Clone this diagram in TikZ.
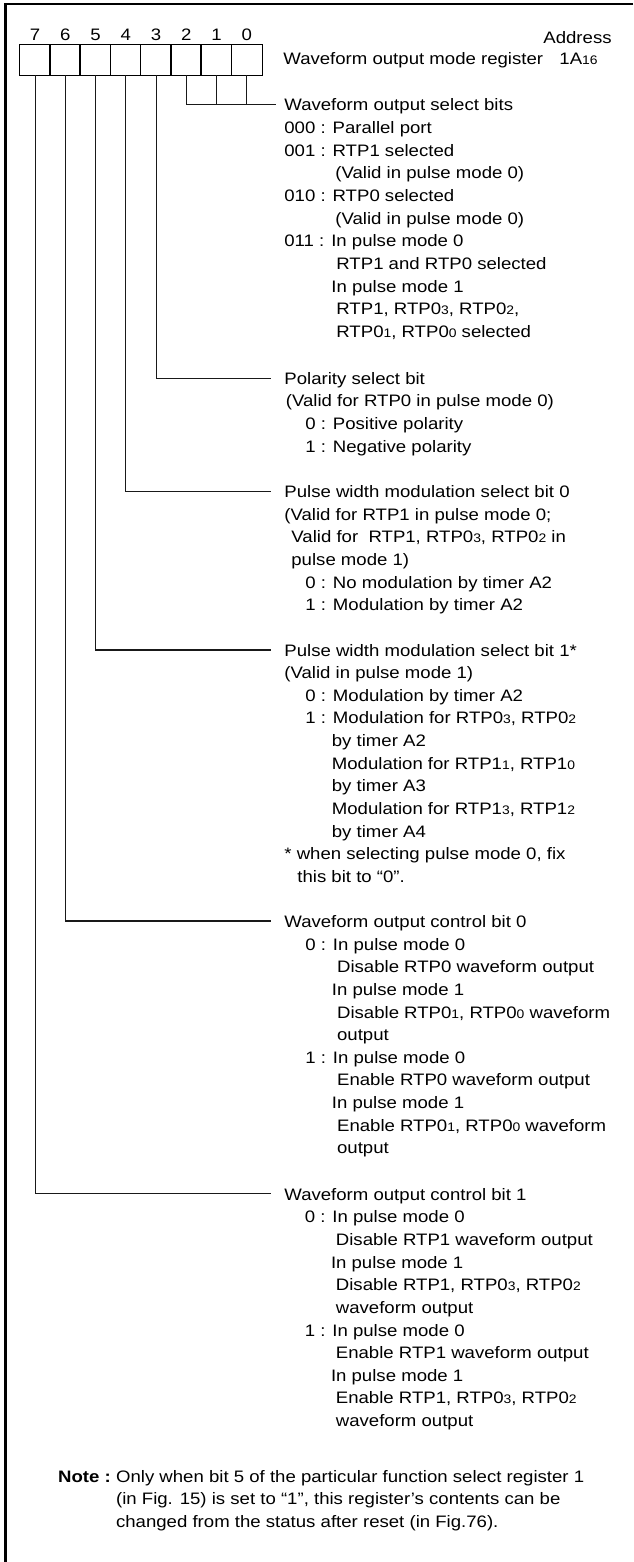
\documentclass[tikz,border=0pt]{standalone}
\usepackage{fontspec}
\setmainfont{Liberation Sans}[FakeStretch=1.12]
\newcommand\sbs[1]{{\fontsize{6.2}{6.5}\selectfont #1}}
\begin{document}
\begin{tikzpicture}[x=0.5pt,y=-0.5pt,
  lbl/.style={anchor=base west,inner sep=0pt,font=\fontsize{8.3}{9.6}\selectfont},
  digit/.style={anchor=base,inner sep=0pt,font=\fontsize{8.3}{9.6}\selectfont},
  bitbox/.style={minimum width=15.125pt,minimum height=15pt,inner sep=0pt},
  regline/.style={line width=0.7pt},
  conn/.style={line width=0.55pt,draw=black!90},
  frame/.style={line width=1.3pt,line join=miter}]
\useasboundingbox (0,0) rectangle (633,1562);
\draw[frame] (633,4) -- (5.5,4) -- (5.5,1562);
% register bits
\foreach \i in {0,...,7}{
  \node[bitbox] (r\i) at ({20+30.25*(7-\i+0.5)},60) {};
  \node[digit] (q\i) at ({20+30.25*(7-\i+0.5)},41) {\i};
}
\draw[regline] (r7.north west) rectangle (r0.south east);
\foreach \i in {0,...,6}{
  \draw[regline] (r\i.north west) -- (r\i.south west);
}
\node[lbl,anchor=base east] (addr) at (612,43.3) {Address};
\node[lbl] (reg) at (283,65) {Waveform output mode register};
\node[lbl,anchor=base east] (regaddr) at (598,65) {1A\sbs{16}};
\def\dy{22.63}
% section 1
\def\yA{111}
\node[lbl] (a0) at (284,\yA) {Waveform output select bits};
\node[lbl] (a1) at (284,\yA+\dy) {000 : Parallel port};
\node[lbl] (a2) at (284,\yA+2*\dy) {001 : RTP1 selected};
\node[lbl] (a3) at (335,\yA+3*\dy) {(Valid in pulse mode 0)};
\node[lbl] (a4) at (284,\yA+4*\dy) {010 : RTP0 selected};
\node[lbl] (a5) at (335,\yA+5*\dy) {(Valid in pulse mode 0)};
\node[lbl] (a6) at (284,\yA+6*\dy) {011 : In pulse mode 0};
\node[lbl] (a7) at (336,\yA+7*\dy) {RTP1 and RTP0 selected};
\node[lbl] (a8) at (331,\yA+8*\dy) {In pulse mode 1};
\node[lbl] (a9) at (336,\yA+9*\dy) {RTP1, RTP0\sbs{3}, RTP0\sbs{2},};
\node[lbl] (a10) at (336,\yA+10*\dy) {RTP0\sbs{1}, RTP0\sbs{0} selected};
% section 2
\def\yB{384.3}
\node[lbl] (b0) at (284,\yB) {Polarity select bit};
\node[lbl] (b1) at (285.5,\yB+\dy) {(Valid for RTP0 in pulse mode 0)};
\node[lbl] (b2) at (305,\yB+2*\dy) {0 : Positive polarity};
\node[lbl] (b3) at (305,\yB+3*\dy) {1 : Negative polarity};
% section 3
\def\yC{497.7}
\node[lbl] (c0) at (284,\yC) {Pulse width modulation select bit 0};
\node[lbl] (c1) at (284,\yC+\dy) {(Valid for RTP1 in pulse mode 0;};
\node[lbl] (c2) at (291,\yC+2*\dy) {Valid for~ RTP1, RTP0\sbs{3}, RTP0\sbs{2} in};
\node[lbl] (c3) at (291,\yC+3*\dy) {pulse mode 1)};
\node[lbl] (c4) at (305,\yC+4*\dy) {0 : No modulation by timer A2};
\node[lbl] (c5) at (305,\yC+5*\dy) {1 : Modulation by timer A2};
% section 4
\def\yD{656}
\node[lbl] (d0) at (284,\yD) {Pulse width modulation select bit 1*};
\node[lbl] (d1) at (284,\yD+\dy) {(Valid in pulse mode 1)};
\node[lbl] (d2) at (305,\yD+2*\dy) {0 : Modulation by timer A2};
\node[lbl] (d3) at (305,\yD+3*\dy) {1 : Modulation for RTP0\sbs{3}, RTP0\sbs{2}};
\node[lbl] (d4) at (331.5,\yD+4*\dy) {by timer A2};
\node[lbl] (d5) at (331.5,\yD+5*\dy) {Modulation for RTP1\sbs{1}, RTP1\sbs{0}};
\node[lbl] (d6) at (331.5,\yD+6*\dy) {by timer A3};
\node[lbl] (d7) at (331.5,\yD+7*\dy) {Modulation for RTP1\sbs{3}, RTP1\sbs{2}};
\node[lbl] (d8) at (331.5,\yD+8*\dy) {by timer A4};
\node[lbl] (d9) at (284,\yD+9*\dy) {* when selecting pulse mode 0, fix};
\node[lbl] (d10) at (297,\yD+10*\dy) {this bit to “0”.};
% section 5
\def\yE{927.5}
\node[lbl] (e0) at (284,\yE) {Waveform output control bit 0};
\node[lbl] (e1) at (305,\yE+\dy) {0 : In pulse mode 0};
\node[lbl] (e2) at (336.7,\yE+2*\dy) {Disable RTP0 waveform output};
\node[lbl] (e3) at (331.5,\yE+3*\dy) {In pulse mode 1};
\node[lbl] (e4) at (336.7,\yE+4*\dy) {Disable RTP0\sbs{1}, RTP0\sbs{0} waveform};
\node[lbl] (e5) at (336.7,\yE+5*\dy) {output};
\node[lbl] (e6) at (305,\yE+6*\dy) {1 : In pulse mode 0};
\node[lbl] (e7) at (336.7,\yE+7*\dy) {Enable RTP0 waveform output};
\node[lbl] (e8) at (331.5,\yE+8*\dy) {In pulse mode 1};
\node[lbl] (e9) at (336.7,\yE+9*\dy) {Enable RTP0\sbs{1}, RTP0\sbs{0} waveform};
\node[lbl] (e10) at (336.7,\yE+10*\dy) {output};
% section 6
\def\yF{1200.3}
\node[lbl] (f0) at (284,\yF) {Waveform output control bit 1};
\node[lbl] (f1) at (304.4,\yF+\dy) {0 : In pulse mode 0};
\node[lbl] (f2) at (335.5,\yF+2*\dy) {Disable RTP1 waveform output};
\node[lbl] (f3) at (330.6,\yF+3*\dy) {In pulse mode 1};
\node[lbl] (f4) at (335.5,\yF+4*\dy) {Disable RTP1, RTP0\sbs{3}, RTP0\sbs{2}};
\node[lbl] (f5) at (335.5,\yF+5*\dy) {waveform output};
\node[lbl] (f6) at (304.4,\yF+6*\dy) {1 : In pulse mode 0};
\node[lbl] (f7) at (335.5,\yF+7*\dy) {Enable RTP1 waveform output};
\node[lbl] (f8) at (330.6,\yF+8*\dy) {In pulse mode 1};
\node[lbl] (f9) at (335.5,\yF+9*\dy) {Enable RTP1, RTP0\sbs{3}, RTP0\sbs{2}};
\node[lbl] (f10) at (335.5,\yF+10*\dy) {waveform output};
% note
\def\yN{1482}
\node[lbl] (nt0) at (57.7,\yN) {\textbf{Note :}};
\node[lbl] (nt1) at (115.7,\yN) {Only when bit 5 of the particular function select register 1};
\node[lbl] (nt2) at (115.7,\yN+\dy) {(in Fig. 15) is set to “1”, this register’s contents can be};
\node[lbl] (nt3) at (115.7,\yN+2*\dy) {changed from the status after reset (in Fig.76).};
% connectors
\coordinate (ka) at (276,104.3);
\coordinate (kb) at (271,378.3);
\coordinate (kc) at (271,491.7);
\coordinate (kd) at (271,650);
\coordinate (ke) at (271,921);
\coordinate (kf) at (271,1193.3);
\draw[conn] (r2.south) |- (ka);
\draw[conn] (r1.south) -- (r1.south |- ka);
\draw[conn] (r0.south) -- (r0.south |- ka);
\draw[conn] (r3.south) |- (kb);
\draw[conn] (r4.south) |- (kc);
\draw[conn] (r5.south) |- (kd);
\draw[conn] (r6.south) |- (ke);
\draw[conn] (r7.south) |- (kf);
\end{tikzpicture}
\end{document}
